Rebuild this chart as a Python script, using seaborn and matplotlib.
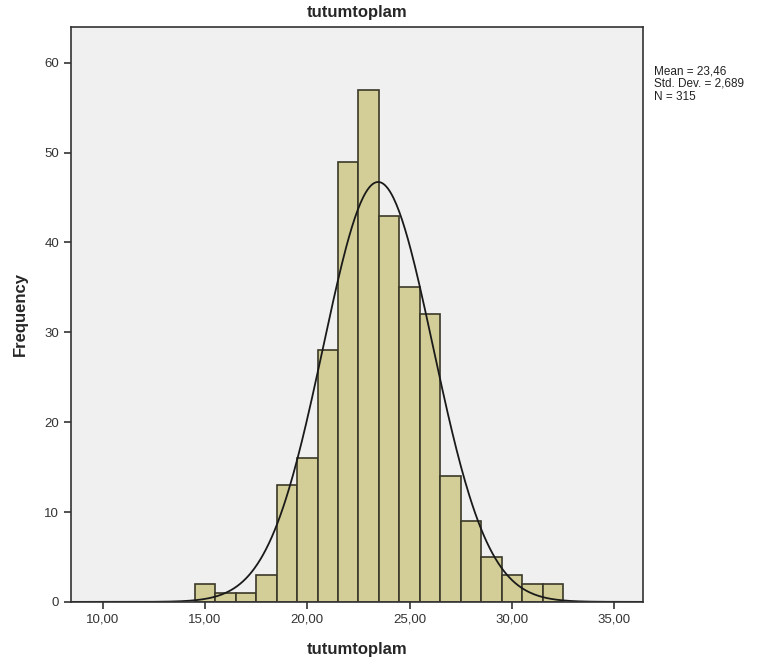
import numpy as np
import matplotlib
matplotlib.use("Agg")
import matplotlib.pyplot as plt
import seaborn as sns

# ─── data ─────────────────────────────────────────────────────
bin_edges = [14.5, 15.5, 16.5, 17.5, 18.5, 19.5, 20.5, 21.5, 22.5, 23.5,
             24.5, 25.5, 26.5, 27.5, 28.5, 29.5, 30.5, 31.5, 32.5]
counts = [2, 1, 1, 3, 13, 16, 28, 49, 57, 43, 35, 32, 14, 9, 5, 3, 2, 2]
mean_val = 23.46
std_val = 2.689
n_val = 315
xticks = [10, 15, 20, 25, 30, 35]
yticks = [0, 10, 20, 30, 40, 50, 60]

sns.set_style("ticks")
plt.rcParams["font.family"] = ["Liberation Sans", "DejaVu Sans"]

fig = plt.figure(figsize=(7.75, 6.71), dpi=100)
ax = fig.add_axes([0.0916, 0.103, 0.738, 0.857])
ax.set_facecolor("#F0F0F0")

centers = [(a + b) / 2 for a, b in zip(bin_edges[:-1], bin_edges[1:])]
sns.histplot(x=centers, weights=counts, bins=bin_edges, ax=ax,
             color="#D3CE97", edgecolor="#3A3828", linewidth=1.2, alpha=1)

# normal curve scaled to counts (bin width 1)
width = bin_edges[1] - bin_edges[0]
xs = np.linspace(8.45, 36.4, 400)
ys = n_val * width / (std_val * np.sqrt(2 * np.pi)) * np.exp(-0.5 * ((xs - mean_val) / std_val) ** 2)
sns.lineplot(x=xs, y=ys, ax=ax, color="#1A1A1A", linewidth=1.3)

ax.set_xlim(8.45, 36.4)
ax.set_ylim(0, 64)
ax.set_xticks(xticks)
ax.set_xticklabels([f"{t:.2f}".replace(".", ",") for t in xticks])
ax.set_yticks(yticks)
ax.tick_params(axis="both", direction="out", length=5, width=1.2,
               color="#333333", labelsize=9.5, labelcolor="#333333")
for s in ax.spines.values():
    s.set_visible(True)
    s.set_color("#333333")
    s.set_linewidth(1.2)

ax.set_title("tutumtoplam", fontsize=12, fontweight="bold", pad=7)
ax.set_xlabel("tutumtoplam", fontsize=12, fontweight="bold", labelpad=12)
ax.set_ylabel("Frequency", fontsize=12, fontweight="bold", labelpad=12)

stats = f"Mean = {mean_val:.2f}\nStd. Dev. = {std_val:.3f}\nN = {n_val}"
stats = stats.replace("23.46", "23,46").replace("2.689", "2,689")
fig.text(0.844, 0.903, stats, fontsize=8.5, va="top", ha="left",
         color="#222222", linespacing=1.08)

plt.savefig("out.png", dpi=100)
plt.close()
